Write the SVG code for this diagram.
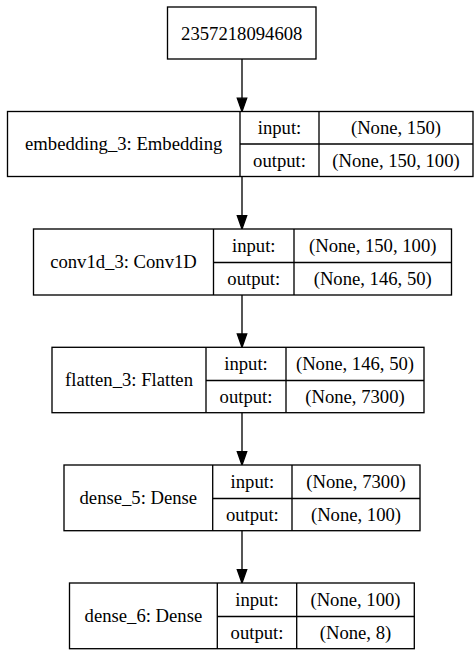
<svg xmlns="http://www.w3.org/2000/svg" width="474" height="652" viewBox="0 0 474 652">
<style>
  .box{fill:#fff;stroke:#000;stroke-width:1.33}
  .ln{stroke:#000;stroke-width:1.33;fill:none}
  .hd{fill:#000;stroke:#000;stroke-width:1.33}
  text{font-family:"Liberation Serif","Times New Roman",serif;font-size:18.67px;fill:#000;text-anchor:middle}
</style>
<rect width="474" height="652" fill="#fff"/>
<g id="connectors">
  <line class="ln" x1="242" y1="59" x2="242" y2="98.5"/>
  <polygon class="hd" points="242,111.5 237.3,98.2 246.7,98.2"/>
  <line class="ln" x1="242" y1="176.5" x2="242" y2="216"/>
  <polygon class="hd" points="242,229 237.3,215.7 246.7,215.7"/>
  <line class="ln" x1="242" y1="295" x2="242" y2="334.5"/>
  <polygon class="hd" points="242,347.3 237.3,334 246.7,334"/>
  <line class="ln" x1="242" y1="412.7" x2="242" y2="452"/>
  <polygon class="hd" points="242,465 237.3,451.7 246.7,451.7"/>
  <line class="ln" x1="242" y1="530.7" x2="242" y2="570"/>
  <polygon class="hd" points="242,583 237.3,569.7 246.7,569.7"/>
</g>
<g id="input">
  <rect class="box" x="167.5" y="7" width="148.5" height="52"/>
  <text x="241.75" y="39.5">2357218094608</text>
</g>
<g id="embedding_3">
  <rect class="box" x="7.5" y="111.5" width="465.5" height="65"/>
  <line class="ln" x1="240" y1="111.5" x2="240" y2="176.5"/>
  <line class="ln" x1="319" y1="111.5" x2="319" y2="176.5"/>
  <line class="ln" x1="240" y1="144" x2="473" y2="144"/>
  <text x="123.75" y="150">embedding_3: Embedding</text>
  <text x="279.5" y="134">input:</text>
  <text x="279.5" y="166.5">output:</text>
  <text x="396" y="134">(None, 150)</text>
  <text x="396" y="166.5">(None, 150, 100)</text>
</g>
<g id="conv1d_3">
  <rect class="box" x="33.5" y="229" width="418" height="66"/>
  <line class="ln" x1="213.5" y1="229" x2="213.5" y2="295"/>
  <line class="ln" x1="294" y1="229" x2="294" y2="295"/>
  <line class="ln" x1="213.5" y1="262.5" x2="451.5" y2="262.5"/>
  <text x="123.5" y="268">conv1d_3: Conv1D</text>
  <text x="253.75" y="252">input:</text>
  <text x="253.75" y="284.5">output:</text>
  <text x="372.75" y="252">(None, 150, 100)</text>
  <text x="372.75" y="284.5">(None, 146, 50)</text>
</g>
<g id="flatten_3">
  <rect class="box" x="52" y="347.3" width="372" height="65.4"/>
  <line class="ln" x1="206" y1="347.3" x2="206" y2="412.7"/>
  <line class="ln" x1="286" y1="347.3" x2="286" y2="412.7"/>
  <line class="ln" x1="206" y1="380.5" x2="424" y2="380.5"/>
  <text x="129" y="386">flatten_3: Flatten</text>
  <text x="246" y="370">input:</text>
  <text x="246" y="402.5">output:</text>
  <text x="355" y="370">(None, 146, 50)</text>
  <text x="355" y="402.5">(None, 7300)</text>
</g>
<g id="dense_5">
  <rect class="box" x="64" y="465" width="356" height="65.7"/>
  <line class="ln" x1="212.7" y1="465" x2="212.7" y2="530.7"/>
  <line class="ln" x1="292" y1="465" x2="292" y2="530.7"/>
  <line class="ln" x1="212.7" y1="498.5" x2="420" y2="498.5"/>
  <text x="138.35" y="504">dense_5: Dense</text>
  <text x="252.35" y="488">input:</text>
  <text x="252.35" y="520.5">output:</text>
  <text x="356" y="488">(None, 7300)</text>
  <text x="356" y="520.5">(None, 100)</text>
</g>
<g id="dense_6">
  <rect class="box" x="69.5" y="583" width="344.8" height="65.7"/>
  <line class="ln" x1="217.3" y1="583" x2="217.3" y2="648.7"/>
  <line class="ln" x1="296.7" y1="583" x2="296.7" y2="648.7"/>
  <line class="ln" x1="217.3" y1="616.5" x2="414.3" y2="616.5"/>
  <text x="143.4" y="622">dense_6: Dense</text>
  <text x="257" y="606">input:</text>
  <text x="257" y="638.5">output:</text>
  <text x="355.5" y="606">(None, 100)</text>
  <text x="355.5" y="638.5">(None, 8)</text>
</g>
</svg>
